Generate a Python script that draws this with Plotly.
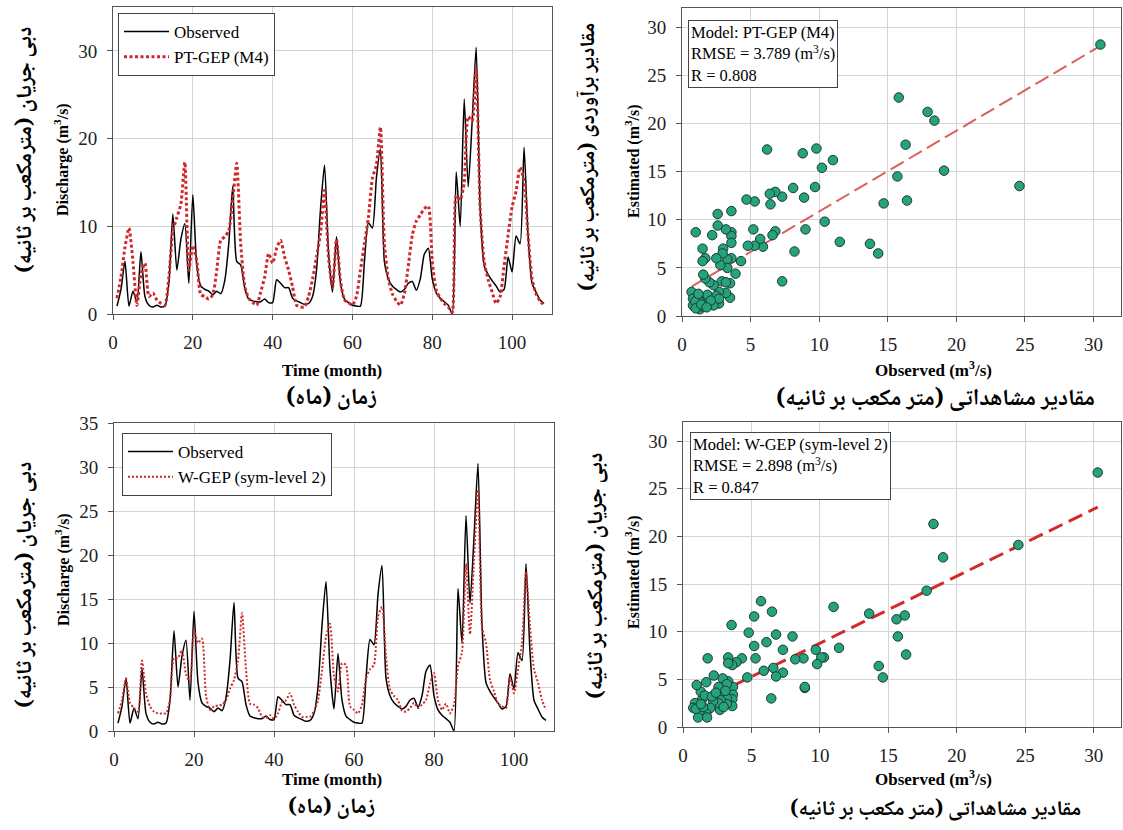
import plotly.graph_objects as go

W, H = 1123, 830

# ---------------- data ----------------
months = list(range(1, 109))

observed = [
    0.9, 2.8, 6.0, 0.9, 2.6, 1.4, 7.1, 2.0, 1.0, 0.8,
    1.0, 0.8, 0.9, 3.5, 11.4, 5.0, 8.5, 10.3, 3.5, 13.6,
    5.5, 3.2, 2.8, 2.6, 2.2, 2.6, 2.3, 3.8, 8.0, 14.6,
    6.0, 5.6, 3.0, 1.7, 1.5, 1.4, 1.4, 1.7, 1.3, 1.3,
    3.9, 3.5, 3.0, 3.0, 1.8, 1.5, 1.3, 1.1, 1.2, 2.0,
    5.0, 12.0, 17.0, 7.0, 2.5, 8.8, 3.5, 1.7, 1.3, 1.0,
    0.9, 0.9, 6.0, 10.4, 9.8, 15.5, 18.8, 6.0, 4.0, 3.2,
    2.8, 2.5, 2.8, 3.5, 3.7, 2.7, 4.0, 6.8, 7.5, 4.0,
    2.4, 1.8, 1.4, 1.0, 0.0, 16.2, 10.0, 24.5, 14.5, 22.0,
    30.4, 12.0, 5.5, 4.5, 3.8, 3.2, 2.5, 2.8, 6.5, 4.8,
    8.9, 8.0, 19.0, 9.0, 3.5, 2.5, 1.6, 1.2]

pt_gep = [
    1.8, 4.2, 7.6, 9.8, 6.0, 1.0, 4.5, 5.8, 2.0, 2.4,
    1.6, 1.2, 1.0, 4.2, 9.5, 11.0, 12.5, 17.3, 5.0, 7.8,
    6.0, 2.2, 2.0, 1.7, 2.2, 5.0, 8.4, 8.8, 9.5, 13.0,
    17.2, 8.0, 3.2, 1.8, 1.3, 1.0, 2.5, 4.2, 6.9, 5.8,
    7.5, 8.4, 6.5, 5.0, 3.1, 1.0, 0.8, 0.8, 2.0, 4.0,
    6.5, 9.2, 14.1, 6.5, 3.0, 8.5, 3.8, 1.6, 1.3, 1.0,
    2.0, 5.0, 8.0, 11.0, 15.5, 17.0, 21.3, 8.0, 4.0, 2.3,
    1.5, 1.0, 2.3, 5.5, 9.0, 10.6, 11.3, 12.0, 12.3, 6.0,
    2.7, 1.8, 1.2, 0.8, 0.2, 13.5, 13.0, 15.0, 22.5, 22.0,
    28.0, 12.0, 6.0, 3.9, 2.5, 1.2, 2.0, 5.5, 9.0, 12.2,
    14.0, 16.7, 15.2, 9.0, 4.0, 2.3, 1.5, 1.0]

w_gep = [
    2.0, 3.5, 6.0, 3.2, 2.6, 2.2, 8.0, 4.3, 2.8, 2.2,
    2.0, 2.0, 2.0, 3.5, 8.3, 8.3, 9.2, 6.4, 5.6, 11.5,
    10.0, 10.5, 4.0, 2.4, 2.8, 2.9, 3.0, 3.5, 4.8, 5.8,
    8.0, 13.4, 7.0, 3.1, 3.0, 2.6, 1.6, 1.5, 1.8, 1.4,
    2.0, 3.3, 3.5, 4.3, 3.0, 2.2, 1.6, 1.6, 1.6, 2.2,
    3.5, 6.9, 10.7, 12.2, 6.2, 4.5, 7.7, 7.5, 2.8, 2.4,
    2.0, 3.0, 6.0, 7.0, 7.5, 13.0, 14.1, 8.5, 4.7, 4.0,
    3.5, 2.3, 2.2, 2.6, 3.2, 2.6, 3.0, 3.5, 5.4, 6.6,
    3.5, 2.4, 3.1, 2.0, 3.0, 7.3, 9.0, 19.0, 11.0, 19.4,
    27.4, 11.9, 10.0, 5.8, 4.5, 3.1, 2.8, 2.6, 6.2, 4.3,
    7.0, 10.0, 18.1, 11.9, 7.0, 5.5, 3.5, 2.4]

# scatter: PT-GEP (M4)
pt_sc_obs = [
    30.5, 15.8, 17.9, 18.4, 16.3, 19.1, 15.7, 16.4, 14.7, 24.6,
    13.7, 14.3, 11.5, 10.4, 11.0, 10.2, 9.8, 8.8, 9.7, 8.9,
    9.0, 8.2, 8.1, 7.3, 6.8, 6.4, 6.45, 6.2, 7.3, 6.8,
    6.6, 5.9, 5.7, 5.3, 4.8, 5.2, 5.3, 4.7, 4.3, 3.9,
    3.6, 3.6, 3.6, 3.6, 3.6, 3.2, 3.3, 3.3, 3.5, 3.5,
    3.0, 2.96, 2.8, 2.5, 2.6, 2.6, 2.2, 2.9, 3.2, 3.2,
    2.7, 2.7, 2.3, 2.0, 1.9, 2.3, 2.5, 1.7, 1.55, 1.7,
    1.5, 1.5, 1.0, 0.7, 0.8, 0.8, 1.1, 1.2, 1.3, 1.5,
    1.6, 1.85, 1.3, 0.97, 2.7, 1.0, 1.4, 2.1, 1.8, 1.2]
pt_sc_est = [
    28.2, 22.7, 21.2, 20.3, 17.8, 15.1, 14.5, 12.0, 11.7, 13.5,
    7.5, 6.5, 7.7, 9.8, 16.2, 15.4, 17.4, 16.9, 13.4, 12.3,
    9.0, 6.7, 13.3, 12.4, 12.9, 12.7, 11.6, 17.3, 3.6, 8.8,
    8.4, 7.2, 8.0, 7.3, 7.3, 9.0, 11.9, 12.1, 5.7, 4.4,
    10.9, 8.7, 8.3, 7.6, 6.0, 9.0, 5.9, 5.0, 3.4, 1.9,
    7.0, 6.5, 5.3, 6.0, 10.6, 9.4, 8.4, 3.6, 3.5, 2.4,
    2.5, 1.3, 3.2, 3.5, 2.1, 1.1, 2.1, 3.9, 4.3, 6.0,
    5.7, 7.0, 8.7, 2.5, 1.8, 1.1, 1.0, 1.8, 0.7, 1.0,
    1.4, 2.2, 1.5, 1.5, 1.8, 0.8, 1.2, 1.6, 0.9, 2.3]
pt_fit = (0.839, 2.47)   # slope, intercept of trend line

# scatter: W-GEP (sym-level 2)
wg_sc_obs = [
    30.3, 18.3, 19.0, 24.5, 17.8, 11.0, 13.6, 16.2, 15.6, 15.7,
    16.3, 14.3, 14.6, 11.4, 10.3, 10.1, 9.8, 9.7, 8.8, 8.9,
    8.0, 8.2, 7.3, 7.3, 6.8, 6.5, 6.6, 6.8, 6.45, 6.1,
    5.9, 5.7, 5.2, 5.2, 5.3, 4.8, 4.7, 4.3, 3.55, 3.9,
    3.6, 3.3, 3.3, 3.3, 3.65, 3.65, 3.6, 3.6, 3.2, 3.2,
    2.9, 3.2, 2.6, 2.6, 2.75, 2.7, 2.6, 2.25, 2.2, 2.0,
    1.8, 1.7, 1.7, 1.76, 1.4, 1.3, 1.2, 1.1, 1.0, 0.87,
    0.75, 0.94, 1.47, 1.6, 2.1, 2.97, 3.1, 8.9, 1.3, 2.4]
wg_sc_est = [
    26.7, 21.3, 17.8, 19.1, 14.3, 12.6, 11.9, 11.7, 11.3, 9.5,
    7.6, 6.4, 5.2, 8.3, 7.3, 7.3, 6.6, 8.1, 7.2, 4.1,
    9.5, 7.1, 8.1, 5.7, 9.7, 12.1, 6.2, 5.3, 3.0, 8.9,
    5.9, 13.2, 11.6, 8.5, 7.2, 9.9, 5.2, 7.2, 10.7, 6.8,
    6.5, 7.3, 6.7, 4.8, 4.2, 3.4, 2.9, 2.2, 3.0, 2.4,
    5.1, 4.5, 4.2, 3.2, 2.8, 1.8, 2.5, 5.4, 2.7, 2.0,
    7.2, 4.7, 1.4, 1.0, 2.9, 3.7, 1.6, 1.0, 4.4, 2.5,
    2.0, 1.9, 2.1, 3.3, 3.2, 2.1, 3.8, 4.2, 2.4, 3.6]
wg_fit = (0.703, 1.76)

x_ticks_time = [0, 20, 40, 60, 80, 100]
x_ticks_sc = [0, 5, 10, 15, 20, 25, 30]

# ---------------- styles ----------------
SERIF = "Liberation Serif"
ARAB = "Noto Naskh Arabic, Noto Sans Arabic, DejaVu Sans"
GRID = "#d4d4d4"
FRAME = "#555555"
GREEN = "#24a37d"
RLM = "\u200f"


def px(xp):
    return xp / W


def py(yp):
    return 1 - yp / H


fig = go.Figure()

# top-left time series
fig.add_trace(go.Scatter(x=months, y=observed, mode="lines", name="Observed",
                         line=dict(color="black", width=1.5, shape="spline", smoothing=0.6),
                         xaxis="x", yaxis="y", legend="legend"))
fig.add_trace(go.Scatter(x=months, y=pt_gep, mode="lines", name="PT-GEP (M4)",
                         line=dict(color="#d0282b", width=3, dash="3px,2.5px", shape="spline", smoothing=0.6),
                         xaxis="x", yaxis="y", legend="legend"))

# bottom-left time series
fig.add_trace(go.Scatter(x=months, y=observed, mode="lines", name="Observed",
                         line=dict(color="black", width=1.5, shape="spline", smoothing=0.6),
                         xaxis="x3", yaxis="y3", legend="legend2"))
fig.add_trace(go.Scatter(x=months, y=w_gep, mode="lines", name="W-GEP (sym-level 2)",
                         line=dict(color="#cc2a2a", width=2, dash="2px,2px", shape="spline", smoothing=0.6),
                         xaxis="x3", yaxis="y3", legend="legend2"))


def trend(xs, fit):
    lo, hi = min(xs), max(xs)
    return [lo, hi], [fit[0] * lo + fit[1], fit[0] * hi + fit[1]]


tx, ty = trend(pt_sc_obs, pt_fit)
fig.add_trace(go.Scatter(x=tx, y=ty, mode="lines", showlegend=False,
                         line=dict(color="#d9605b", width=2, dash="15px,6px"),
                         xaxis="x2", yaxis="y2"))
fig.add_trace(go.Scatter(x=pt_sc_obs, y=pt_sc_est, mode="markers", showlegend=False,
                         marker=dict(size=9.5, color=GREEN, line=dict(color="#1d3a30", width=1)),
                         xaxis="x2", yaxis="y2"))

tx, ty = trend(wg_sc_obs, wg_fit)
fig.add_trace(go.Scatter(x=tx, y=ty, mode="lines", showlegend=False,
                         line=dict(color="#d42a2a", width=3, dash="15px,7px"),
                         xaxis="x4", yaxis="y4"))
fig.add_trace(go.Scatter(x=wg_sc_obs, y=wg_sc_est, mode="markers", showlegend=False,
                         marker=dict(size=9.5, color=GREEN, line=dict(color="#1d3a30", width=1)),
                         xaxis="x4", yaxis="y4"))


def axis(domain, rng, tickvals, anchor):
    return dict(domain=domain, range=rng, tickvals=tickvals, anchor=anchor,
                showline=True, mirror=True, linecolor=FRAME, linewidth=1,
                ticks="outside", ticklen=5, tickcolor=FRAME,
                showgrid=True, gridcolor=GRID, gridwidth=1, zeroline=False,
                tickfont=dict(family=SERIF, size=19, color="#222"),
                ticklabelstandoff=6, automargin=False)


legend_style = dict(xanchor="left", yanchor="top", bordercolor="#444", borderwidth=1,
                    bgcolor="white", font=dict(family=SERIF, size=17, color="black"),
                    tracegroupgap=0, itemwidth=45)

fig.update_layout(
    width=W, height=H, margin=dict(l=0, r=0, t=0, b=0, autoexpand=False),
    plot_bgcolor="white", paper_bgcolor="white",
    xaxis=axis([px(113), px(552)], [0, 110], x_ticks_time, "y"),
    yaxis=axis([py(314), py(7)], [0, 35], [0, 10, 20, 30], "x"),
    xaxis2=axis([px(682), px(1121)], [0, 32], x_ticks_sc, "y2"),
    yaxis2=axis([py(316), py(8)], [0, 32], x_ticks_sc, "x2"),
    xaxis3=axis([px(114), px(554)], [0, 110], x_ticks_time, "y3"),
    yaxis3=axis([py(731), py(423)], [0, 35], [0, 5, 10, 15, 20, 25, 30, 35], "x3"),
    xaxis4=axis([px(683), px(1121)], [0, 32], x_ticks_sc, "y4"),
    yaxis4=axis([py(727), py(422)], [0, 32], x_ticks_sc, "x4"),
    legend=dict(x=px(118), y=py(13), **legend_style),
    legend2=dict(x=px(122), y=py(433), **legend_style),
)

ann = []


def txt(x, y, text, size, family=SERIF, angle=0, bold=True):
    t = "<b>" + text + "</b>" if bold else text
    ann.append(dict(x=px(x), y=py(y), xref="paper", yref="paper", text=t, showarrow=False,
                    textangle=angle, xanchor="center", yanchor="middle",
                    font=dict(family=family, size=size, color="black")))


# English axis titles
txt(62, 160, "Discharge (m<sup>3</sup>/s)", 16, angle=-90)
txt(62, 570, "Discharge (m<sup>3</sup>/s)", 16, angle=-90)
txt(632, 161, "Estimated (m<sup>3</sup>/s)", 16, angle=-90)
txt(632, 572, "Estimated (m<sup>3</sup>/s)", 16, angle=-90)
txt(332, 371, "Time (month)", 17)
txt(332, 779, "Time (month)", 17)
txt(933, 369, "Observed (m<sup>3</sup>/s)", 17)
txt(933, 778, "Observed (m<sup>3</sup>/s)", 17)

# Persian axis titles
fa_q = RLM + "دبی جریان (مترمکعب بر ثانیه)" + RLM
fa_est = RLM + "مقادیر برآوردی (مترمکعب بر ثانیه)" + RLM
fa_time = RLM + "زمان (ماه)" + RLM
fa_obs = RLM + "مقادیر مشاهداتی (متر مکعب بر ثانیه)" + RLM
txt(26, 150, fa_q, 22, family=ARAB, angle=-90)
txt(26, 585, fa_q, 22, family=ARAB, angle=-90)
txt(590, 157, fa_est, 21, family=ARAB, angle=-90)
txt(597, 576, fa_q, 22, family=ARAB, angle=-90)
txt(331, 399, fa_time, 23, family=ARAB)
txt(331, 808, fa_time, 22, family=ARAB)
txt(935, 400, fa_obs, 23, family=ARAB)
txt(935, 810, fa_obs, 21, family=ARAB)

# statistic boxes
for (x0, y0, text) in [
    (688, 20, "Model: PT-GEP (M4)<br>RMSE = 3.789 (m<sup>3</sup>/s)<br>R = 0.808"),
    (690, 432, "Model: W-GEP (sym-level 2)<br>RMSE = 2.898 (m<sup>3</sup>/s)<br>R = 0.847"),
]:
    ann.append(dict(x=px(x0), y=py(y0), xref="paper", yref="paper", text=text, showarrow=False,
                    xanchor="left", yanchor="top", align="left",
                    bordercolor="#444", borderwidth=1, borderpad=2, bgcolor="white",
                    font=dict(family=SERIF, size=16.5, color="black")))

fig.update_layout(annotations=ann)
fig.write_html("out.html", config={"displayModeBar": False},
               post_script="document.body.style.margin='0';document.body.style.padding='0';"
                           "document.body.style.overflow='hidden';")
